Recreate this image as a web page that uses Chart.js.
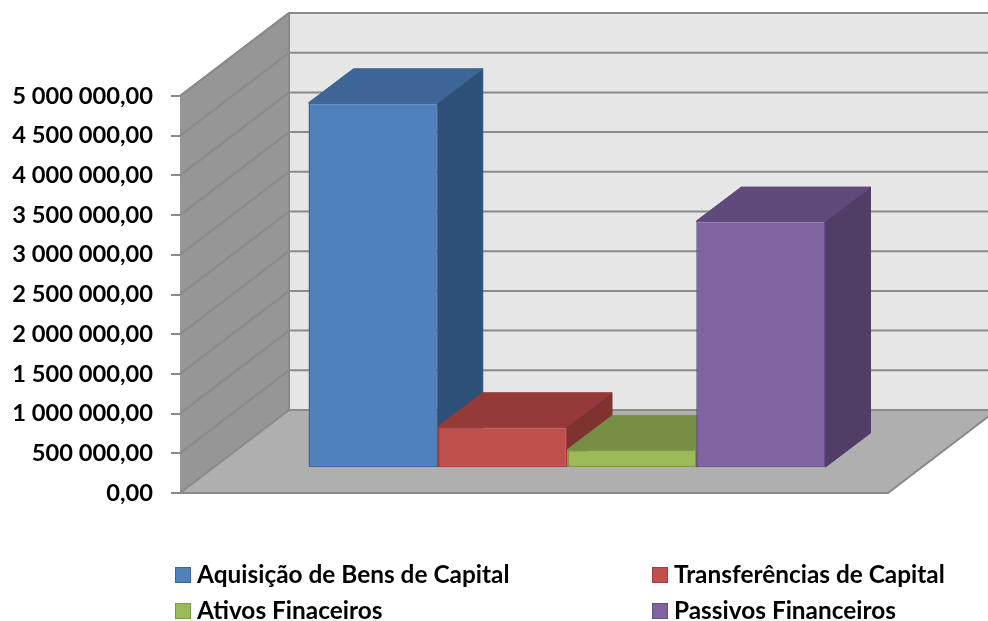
<!DOCTYPE html>
<html>
<head>
<meta charset="utf-8">
<style>html,body{margin:0;padding:0;background:#fff}canvas{display:block}</style>
<script src="https://cdn.jsdelivr.net/npm/chart.js@4"></script>
</head>
<body>
<canvas id="c" width="988" height="621"></canvas>
<script>
const categories = ["Total"];
const seriesNames = ["Aquisição de Bens de Capital", "Transferências de Capital", "Ativos Finaceiros", "Passivos Financeiros"];
const aquisicao = [4600000];
const transferencias = [520000];
const ativos = [230000];
const passivos = [3110000];
const yMax = 5000000;
const yStep = 500000;

const frontColors = ["#4f81bd", "#c0504d", "#9bbb59", "#8064a2"];
const borderColors = ["#3a669c", "#a03f3d", "#7f9a47", "#664f85"];
const topColors = ["#3d6595", "#953a38", "#768e43", "#604a7b"];
const sideColors = ["#2f5078", "#7f3230", "#5f7336", "#513e66"];

const WALL_DX = 109, WALL_DY = -83;
const BAR_DX = 33, BAR_DY = -25;
const DEPTH_DX = 45, DEPTH_DY = -34;
const FONT = "Lato, Carlito, sans-serif";

function poly(ctx, pts, fill, stroke, lw) {
  ctx.beginPath();
  pts.forEach((p, i) => i ? ctx.lineTo(p[0], p[1]) : ctx.moveTo(p[0], p[1]));
  ctx.closePath();
  if (fill) { ctx.fillStyle = fill; ctx.fill(); }
  if (stroke) { ctx.strokeStyle = stroke; ctx.lineWidth = lw || 1; ctx.stroke(); }
}

const walls = {
  id: "walls",
  beforeDraw(chart) {
    const { ctx, chartArea: a, scales: { y }, width } = chart;
    const L = a.left, R = a.right, B = y.getPixelForValue(0), T = y.getPixelForValue(yMax);
    const bx = L + WALL_DX, by = B + WALL_DY, ty = T + WALL_DY;
    ctx.save();
    poly(ctx, [[bx, ty], [width + 2, ty], [width + 2, by], [bx, by]], "#e6e6e6");
    poly(ctx, [[L, T], [bx, ty], [bx, by], [L, B]], "#969696");
    poly(ctx, [[L, B], [bx, by], [R + WALL_DX, by], [R, B]], "#afafaf");
    ctx.strokeStyle = "#8a8a8a";
    ctx.lineWidth = 2;
    for (let v = 0; v <= yMax; v += yStep) {
      const py = y.getPixelForValue(v);
      ctx.beginPath();
      ctx.moveTo(L, py);
      ctx.lineTo(bx, py + WALL_DY);
      ctx.lineTo(width + 2, py + WALL_DY);
      ctx.stroke();
    }
    ctx.beginPath();
    ctx.moveTo(L, B); ctx.lineTo(R, B); ctx.lineTo(R + WALL_DX, by);
    ctx.moveTo(bx, ty); ctx.lineTo(bx, by);
    ctx.moveTo(L, T); ctx.lineTo(bx, ty);
    ctx.stroke();
    ctx.restore();
  },
  beforeDatasetsDraw(chart) {
    const { ctx } = chart;
    ctx.save();
    ctx.translate(BAR_DX, BAR_DY);
    chart.data.datasets.forEach((ds, i) => {
      const meta = chart.getDatasetMeta(i);
      const el = meta.data[0];
      const l = el.x - el.width / 2, r = el.x + el.width / 2, t = el.y, b = el.base;
      poly(ctx, [[r, t], [r + DEPTH_DX, t + DEPTH_DY], [r + DEPTH_DX, b + DEPTH_DY], [r, b]], sideColors[i], sideColors[i], 1);
      poly(ctx, [[l, t], [l + DEPTH_DX, t + DEPTH_DY], [r + DEPTH_DX, t + DEPTH_DY], [r, t]], topColors[i], topColors[i], 1);
      meta.controller.draw();
    });
    ctx.restore();
    return false;
  },
  afterDraw(chart) {
    const { ctx } = chart;
    const cols = [175, 652], rows = [567, 603], size = 16;
    ctx.save();
    ctx.font = "bold 24.4px " + FONT;
    ctx.textBaseline = "alphabetic";
    ctx.textAlign = "left";
    chart.data.datasets.forEach((ds, i) => {
      const x = cols[i % 2], y = rows[i >> 1];
      ctx.fillStyle = ds.backgroundColor;
      ctx.fillRect(x, y, size, size);
      ctx.strokeStyle = ds.borderColor;
      ctx.lineWidth = 1;
      ctx.strokeRect(x + .5, y + .5, size - 1, size - 1);
      ctx.fillStyle = "#000";
      ctx.fillText(ds.label, x + 22, y + 16);
    });
    ctx.restore();
  }
};

const values = [aquisicao, transferencias, ativos, passivos];

new Chart(document.getElementById("c"), {
  type: "bar",
  data: {
    labels: categories,
    datasets: seriesNames.map((name, i) => ({
      label: name,
      data: values[i],
      backgroundColor: frontColors[i],
      borderColor: borderColors[i],
      borderWidth: 1.5,
      borderSkipped: false,
      clip: false
    }))
  },
  options: {
    responsive: false,
    animation: false,
    layout: { padding: { left: 0, right: 100, top: 96, bottom: 128 } },
    datasets: { bar: { categoryPercentage: 0.7302, barPercentage: 1 } },
    plugins: { legend: { display: false }, tooltip: { enabled: false }, title: { display: false } },
    scales: {
      x: { display: false },
      y: {
        min: 0,
        max: yMax,
        afterFit(s) { s.width = 180; },
        border: { display: false },
        grid: { drawOnChartArea: false, tickLength: 9, color: "#8a8a8a", lineWidth: 2 },
        ticks: {
          stepSize: yStep,
          padding: 18,
          color: "#000",
          font: { family: FONT, weight: "bold", size: 23.7 },
          callback: v => v.toLocaleString("en-US", { minimumFractionDigits: 2 }).replace(/,/g, " ").replace(".", ",")
        }
      }
    }
  },
  plugins: [walls]
});
</script>
</body>
</html>
